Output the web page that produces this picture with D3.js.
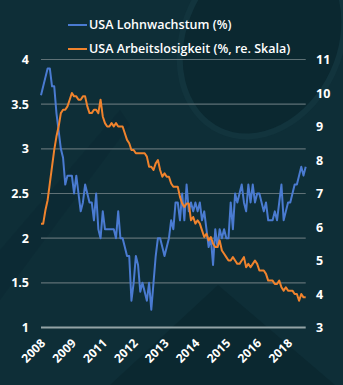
<!DOCTYPE html>
<html>
<head>
<meta charset="utf-8">
<script src="https://cdn.jsdelivr.net/npm/d3@7"></script>
<style>
  html, body { margin: 0; padding: 0; background: #0e2e37; }
  svg { display: block; font-family: "Open Sans", sans-serif; }
</style>
</head>
<body>
<div id="chart"></div>
<script>
// monthly, Aug 2008 .. Aug 2018
const wage = [
  3.6, 3.7, 3.8, 3.9, 3.9, 3.7, 3.7, 3.4, 3.2, 3.0, 2.9, 2.6, 2.7, 2.7, 2.7, 2.5,
  2.7, 2.5, 2.3, 2.4, 2.6, 2.5, 2.4, 2.4, 2.2, 2.5, 2.1, 2.0, 2.3, 2.1, 2.1, 2.1,
  2.1, 2.1, 2.0, 2.3, 2.0, 2.0, 1.9, 1.8, 1.8, 1.3, 1.5, 1.8, 1.7, 1.4, 1.5, 1.4,
  1.3, 1.5, 1.2, 1.5, 1.8, 2.0, 2.0, 1.9, 1.8, 1.9, 2.0, 2.2, 2.1, 2.4, 2.4, 2.2,
  2.5, 2.2, 2.6, 2.3, 2.4, 2.3, 2.4, 2.3, 2.4, 2.2, 2.3, 2.1, 1.9, 2.0, 1.7, 2.1,
  1.9, 2.1, 2.0, 2.1, 2.0, 2.0, 2.4, 2.1, 2.5, 2.4, 2.5, 2.6, 2.4, 2.3, 2.6, 2.4,
  2.6, 2.4, 2.5, 2.5, 2.4, 2.3, 2.4, 2.2, 2.2, 2.2, 2.3, 2.2, 2.4, 2.6, 2.2, 2.3,
  2.4, 2.4, 2.5, 2.6, 2.6, 2.7, 2.8, 2.7, 2.8
];
const unemp = [
  6.1, 6.1, 6.5, 6.8, 7.3,
  7.8, 8.3, 8.7, 9.0, 9.4, 9.5, 9.5, 9.6, 9.8, 10.0, 9.9, 9.9,
  9.8, 9.8, 9.9, 9.9, 9.6, 9.4, 9.4, 9.5, 9.5, 9.4, 9.8, 9.3,
  9.1, 9.0, 9.0, 9.1, 9.0, 9.1, 9.0, 9.0, 9.0, 8.8, 8.6, 8.5,
  8.3, 8.3, 8.2, 8.2, 8.2, 8.2, 8.2, 8.1, 7.8, 7.8, 7.7, 7.9,
  8.0, 7.7, 7.5, 7.6, 7.5, 7.5, 7.3, 7.2, 7.2, 7.2, 6.9, 6.7,
  6.6, 6.7, 6.7, 6.2, 6.3, 6.1, 6.2, 6.1, 5.9, 5.7, 5.8, 5.6,
  5.7, 5.5, 5.4, 5.4, 5.6, 5.3, 5.2, 5.1, 5.0, 5.0, 5.1, 5.0,
  4.9, 4.9, 5.0, 5.1, 4.8, 4.9, 4.8, 4.9, 5.0, 4.9, 4.7, 4.7,
  4.7, 4.6, 4.4, 4.4, 4.4, 4.3, 4.3, 4.4, 4.2, 4.1, 4.2, 4.1,
  4.1, 4.1, 4.0, 4.0, 3.8, 4.0, 3.9, 3.9
];
const xLabels = ['2008', '2009', '2011', '2012', '2013', '2014', '2015', '2016', '2018'];
const xLabelIdx = [0, 14, 28, 42, 56, 70, 84, 98, 112];
const leftTicks = [1, 1.5, 2, 2.5, 3, 3.5, 4];
const rightTicks = [3, 4, 5, 6, 7, 8, 9, 10, 11];
const seriesNames = ['USA Lohnwachstum (%)', 'USA Arbeitslosigkeit (%, re. Skala)'];
const colors = ['#4a7bd1', '#f0832d'];

const W = 343, H = 385;
const x0 = 41, x1 = 305.7, yTop = 59.5, yBot = 327.5;

const svg = d3.select('#chart').append('svg').attr('width', W).attr('height', H);

// faint background decoration
const bg = svg.append('g');
bg.append('rect').attr('width', W).attr('height', H).attr('fill', '#0e2e37');
bg.append('ellipse')
  .attr('cx', 262).attr('cy', 40).attr('rx', 78).attr('ry', 100)
  .attr('transform', 'rotate(25,262,40)')
  .attr('fill', '#0b2830').attr('stroke', '#12343d').attr('stroke-width', 6);
bg.append('polygon')
  .attr('points', '110,385 218,285 335,385')
  .attr('fill', '#0b2830');
bg.append('polygon')
  .attr('points', '0,300 0,250 120,110 130,125')
  .attr('fill', '#0c2a33').attr('opacity', 0.7);

const x = d3.scaleLinear().domain([0, wage.length - 1]).range([x0, x1]);
const yL = d3.scaleLinear().domain([1, 4]).range([yBot, yTop]);
const yR = d3.scaleLinear().domain([3, 11]).range([yBot, yTop]);

// gridlines
svg.append('g').selectAll('line')
  .data(leftTicks)
  .join('line')
  .attr('x1', x0).attr('x2', x1)
  .attr('y1', d => yL(d)).attr('y2', d => yL(d))
  .attr('stroke', d => d === 1 ? '#93a3a6' : '#5f7176')
  .attr('stroke-width', d => d === 1 ? 1.8 : 1.2);

// left axis labels
const yAxisL = d3.axisLeft(yL).tickValues(leftTicks).tickSize(0).tickPadding(0).tickFormat(d3.format('~g'));
const gL = svg.append('g').attr('transform', 'translate(29,0)').call(yAxisL);
gL.select('.domain').remove();
gL.selectAll('text').attr('fill', '#fff').attr('font-size', 12.5).attr('font-weight', 700).attr('font-family', '"Open Sans", sans-serif');

// right axis labels
const yAxisR = d3.axisRight(yR).tickValues(rightTicks).tickSize(0).tickPadding(0);
const gR = svg.append('g').attr('transform', 'translate(316,0)').call(yAxisR);
gR.select('.domain').remove();
gR.selectAll('text').attr('fill', '#fff').attr('font-size', 12.5).attr('font-weight', 700).attr('font-family', '"Open Sans", sans-serif');

// x labels
svg.append('g').selectAll('text')
  .data(xLabels)
  .join('text')
  .attr('transform', (d, i) => `translate(${x(xLabelIdx[i]) + 5},344) rotate(-45)`)
  .attr('text-anchor', 'end')
  .attr('fill', '#fff')
  .attr('font-size', 12)
  .attr('font-weight', 700)
  .text(d => d);

// lines
const lineW = d3.line().x((d, i) => x(i)).y(d => yL(d));
const lineU = d3.line().x((d, i) => x(i)).y(d => yR(d));
svg.append('path').datum(wage).attr('d', lineW)
  .attr('fill', 'none').attr('stroke', colors[0]).attr('stroke-width', 2).attr('stroke-linejoin', 'round');
svg.append('path').datum(unemp).attr('d', lineU)
  .attr('fill', 'none').attr('stroke', colors[1]).attr('stroke-width', 2).attr('stroke-linejoin', 'round');

// legend
const lg = svg.append('g');
seriesNames.forEach((name, i) => {
  const yy = 25 + i * 24;
  lg.append('line').attr('x1', 68).attr('x2', 87).attr('y1', yy).attr('y2', yy)
    .attr('stroke', colors[i]).attr('stroke-width', 2);
  lg.append('text').attr('x', 89).attr('y', yy).attr('dy', '0.35em')
    .attr('fill', '#fff').attr('font-size', 12.5).attr('font-weight', 600)
    .text(name);
});
</script>
</body>
</html>
